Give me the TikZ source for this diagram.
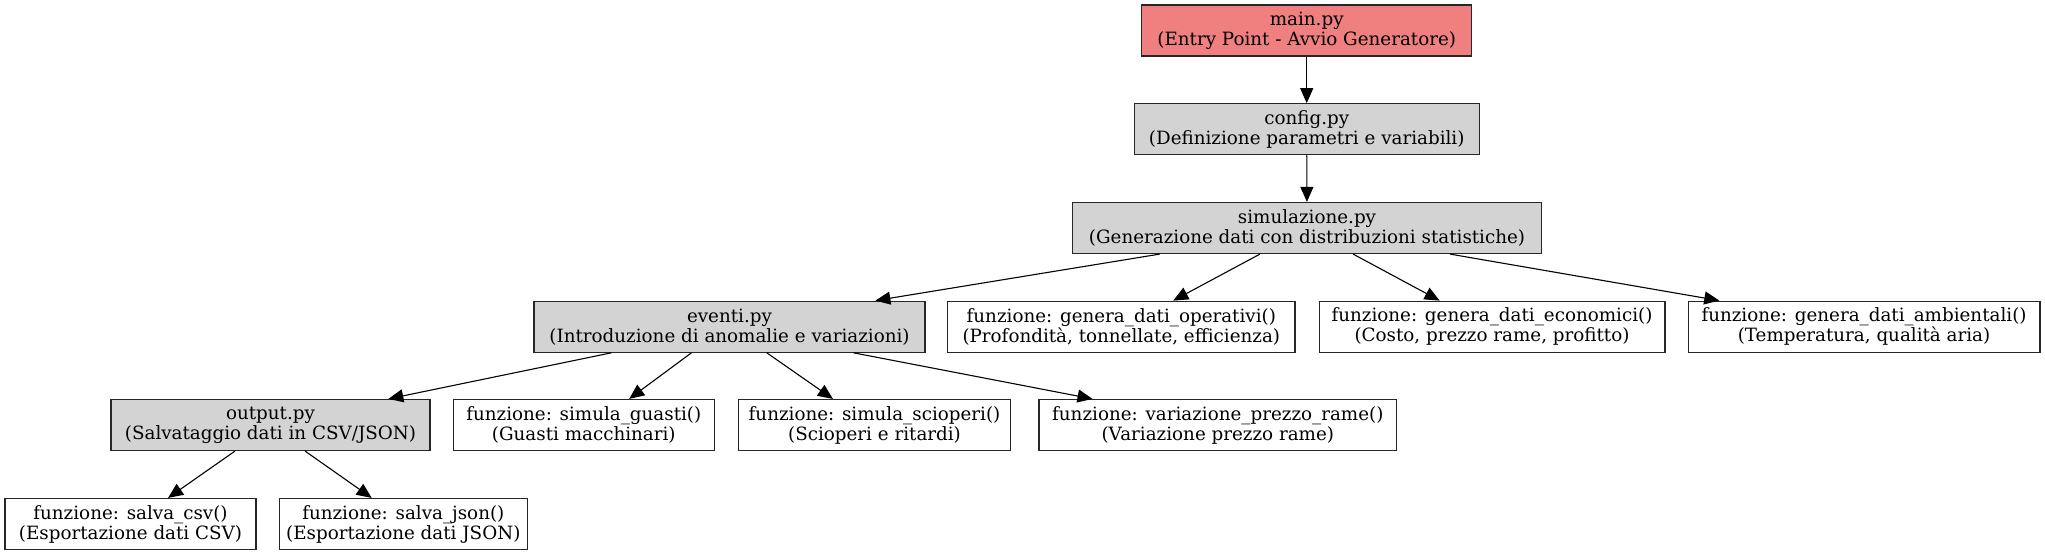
\documentclass[tikz,border=0pt]{standalone}
\usepackage{fontspec}
\setmainfont{DejaVu Serif}
\usetikzlibrary{arrows.meta,calc}
\definecolor{coral}{RGB}{240,128,128}
\definecolor{lgray}{RGB}{211,211,211}
\tikzset{
  box/.style={draw=black!85, line width=0.6pt, rectangle, minimum height=25.5pt, inner sep=0pt,
    align=center, font=\fontsize{9.15}{10}\selectfont},
  modbox/.style={box, fill=lgray},
  mainbox/.style={box, fill=coral},
  fnbox/.style={box, fill=white},
  link/.style={line width=0.55pt, -{Triangle[length=7.5pt,width=6.5pt]}},
}
\begin{document}
\begin{tikzpicture}[x=0.5pt,y=-0.5pt]
\useasboundingbox (0,0) rectangle (2045,555);
\node[mainbox, minimum width=165pt] (main) at (1306.7,30.5) {main.py\\(Entry Point - Avvio Generatore)};
\node[modbox, minimum width=172.5pt] (config) at (1306.7,129.3) {config.py\\(Definizione parametri e variabili)};
\node[modbox, minimum width=234.7pt] (sim) at (1307,228) {simulazione.py\\(Generazione dati con distribuzioni statistiche)};
\node[modbox, minimum width=195.5pt] (eventi) at (729.5,326.7) {eventi.py\\(Introduzione di anomalie e variazioni)};
\node[fnbox, minimum width=173.7pt] (oper) at (1121.3,326.7) {funzione: genera\_dati\_operativi()\\(Profondità, tonnellate, efficienza)};
\node[fnbox, minimum width=172.9pt] (econ) at (1492,326.7) {funzione: genera\_dati\_economici()\\(Costo, prezzo rame, profitto)};
\node[fnbox, minimum width=175.9pt] (amb) at (1864,326.7) {funzione: genera\_dati\_ambientali()\\(Temperatura, qualità aria)};
\node[modbox, minimum width=159.5pt] (output) at (270.5,425) {output.py\\(Salvataggio dati in CSV/JSON)};
\node[fnbox, minimum width=130.5pt] (guasti) at (583.8,425) {funzione: simula\_guasti()\\(Guasti macchinari)};
\node[fnbox, minimum width=136.2pt] (sciop) at (874.5,425) {funzione: simula\_scioperi()\\(Scioperi e ritardi)};
\node[fnbox, minimum width=178.9pt] (varia) at (1217.8,425) {funzione: variazione\_prezzo\_rame()\\(Variazione prezzo rame)};
\node[fnbox, minimum width=125.5pt] (csv) at (130.5,524) {funzione: salva\_csv()\\(Esportazione dati CSV)};
\node[fnbox, minimum width=124pt] (json) at (403.3,524) {funzione: salva\_json()\\(Esportazione dati JSON)};

\draw[link] (main) -- (config);
\draw[link] (config) -- (sim);
\draw[link] ($(sim.south west)!0.187!(sim.south east)$) -- ($(eventi.north west)!0.872!(eventi.north east)$);
\draw[link] ($(sim.south west)!0.400!(sim.south east)$) -- ($(oper.north west)!0.649!(oper.north east)$);
\draw[link] ($(sim.south west)!0.598!(sim.south east)$) -- ($(econ.north west)!0.349!(econ.north east)$);
\draw[link] ($(sim.south west)!0.804!(sim.south east)$) -- ($(amb.north west)!0.090!(amb.north east)$);
\draw[link] ($(eventi.south west)!0.199!(eventi.south east)$) -- ($(output.north west)!0.868!(output.north east)$);
\draw[link] ($(eventi.south west)!0.403!(eventi.south east)$) -- ($(guasti.north west)!0.673!(guasti.north east)$);
\draw[link] ($(eventi.south west)!0.595!(eventi.south east)$) -- ($(sciop.north west)!0.348!(sciop.north east)$);
\draw[link] ($(eventi.south west)!0.816!(eventi.south east)$) -- ($(varia.north west)!0.151!(varia.north east)$);
\draw[link] ($(output.south west)!0.389!(output.south east)$) -- ($(csv.north west)!0.649!(csv.north east)$);
\draw[link] ($(output.south west)!0.608!(output.south east)$) -- ($(json.north west)!0.373!(json.north east)$);
\end{tikzpicture}
\end{document}
